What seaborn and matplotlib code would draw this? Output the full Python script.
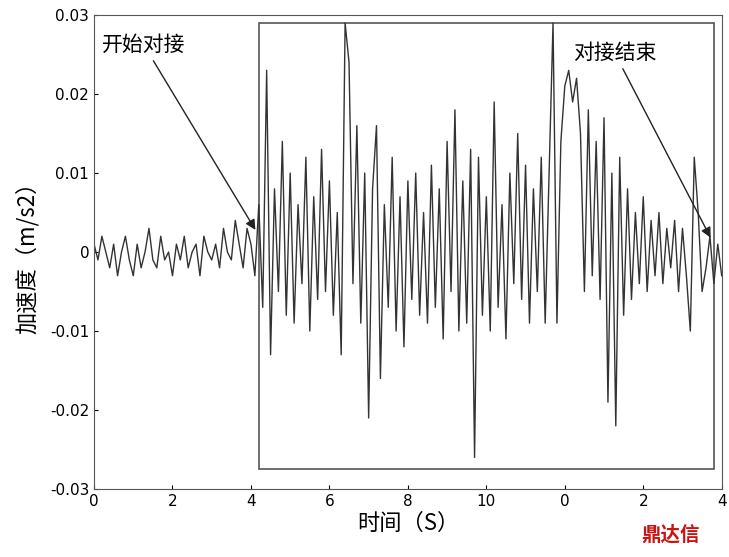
import numpy as np
import pandas as pd
import seaborn as sns
import matplotlib
matplotlib.use("Agg")
import matplotlib.pyplot as plt
from matplotlib.patches import Rectangle

plt.rcParams["font.family"] = ["DejaVu Sans", "Noto Sans CJK SC"]

time_s = [round(i * 0.1, 1) for i in range(161)]
accel_milli = [1,-1,2,0,-2,1,-3,0,2,-1,-3,1,-2,0,3,-1,-2,2,-1,0,-3,1,-1,2,-2,0,1,-3,2,0,-1,1,-2,3,0,-1,4,1,-2,3,1,
    -3,6,-7,23,-13,8,-5,14,-8,10,-9,6,-4,12,-10,7,-6,13,-5,9,-8,5,-13,29,24,-4,16,-9,10,-21,
    8,16,-16,6,-7,12,-10,7,-12,9,-6,10,-8,5,-9,11,-7,8,-11,14,-5,18,-10,9,-9,13,-26,12,-8,7,
    -10,19,-7,6,-11,10,-4,15,-6,11,-9,8,-5,12,-9,10,29,-9,14,21,23,19,22,15,-5,18,-3,14,-6,17,
    -19,10,-22,12,-8,8,-6,5,-4,7,-5,4,-3,5,-4,3,-2,4,-5,3,-3,-10,12,5,-5,-2,2,-4,1,-3]
xtick_pos = [0, 2, 4, 6, 8, 10, 12, 14, 16]
xtick_labels = ["0", "2", "4", "6", "8", "10", "0", "2", "4"]
ytick_pos = [-0.03, -0.02, -0.01, 0, 0.01, 0.02, 0.03]
ytick_labels = ["-0.03", "-0.02", "-0.01", "0", "0.01", "0.02", "0.03"]

df = pd.DataFrame({"t": time_s, "a": np.array(accel_milli) / 1000.0})

fig = plt.figure(figsize=(7.29, 5.57), dpi=100)
ax = fig.add_axes([0.129, 0.122, 0.861, 0.851])
sns.lineplot(data=df, x="t", y="a", ax=ax, color="#333333", lw=1.0)
ax.set_xlim(0, 16)
ax.set_ylim(-0.03, 0.03)
ax.set_xticks(xtick_pos, xtick_labels, fontsize=11)
ax.set_yticks(ytick_pos, ytick_labels, fontsize=11)
ax.tick_params(direction="in", length=3)
ax.set_xlabel("时间（S）", fontsize=16, fontfamily="Noto Sans CJK SC", labelpad=2)
ax.set_ylabel("加速度（m/s2）", fontsize=16, fontfamily="Noto Sans CJK SC", labelpad=8)
for s in ax.spines.values():
    s.set_color("#555555")

ax.add_patch(Rectangle((4.2, -0.0275), 11.6, 0.0565, fill=False, ec="#555555", lw=1.2))
ax.annotate("开始对接", xy=(4.15, 0.0025), xytext=(0.2, 0.0255), fontsize=15,
            fontfamily="Noto Sans CJK SC", arrowprops=dict(arrowstyle="-|>", color="#222222", lw=1))
ax.annotate("对接结束", xy=(15.75, 0.0015), xytext=(12.2, 0.0245), fontsize=15,
            fontfamily="Noto Sans CJK SC", arrowprops=dict(arrowstyle="-|>", color="#222222", lw=1))
fig.text(0.88, 0.03, "鼎达信", color="#cc1111", fontsize=14, fontweight="bold",
         fontfamily="Noto Sans CJK SC")
fig.savefig("out.png", dpi=100)
